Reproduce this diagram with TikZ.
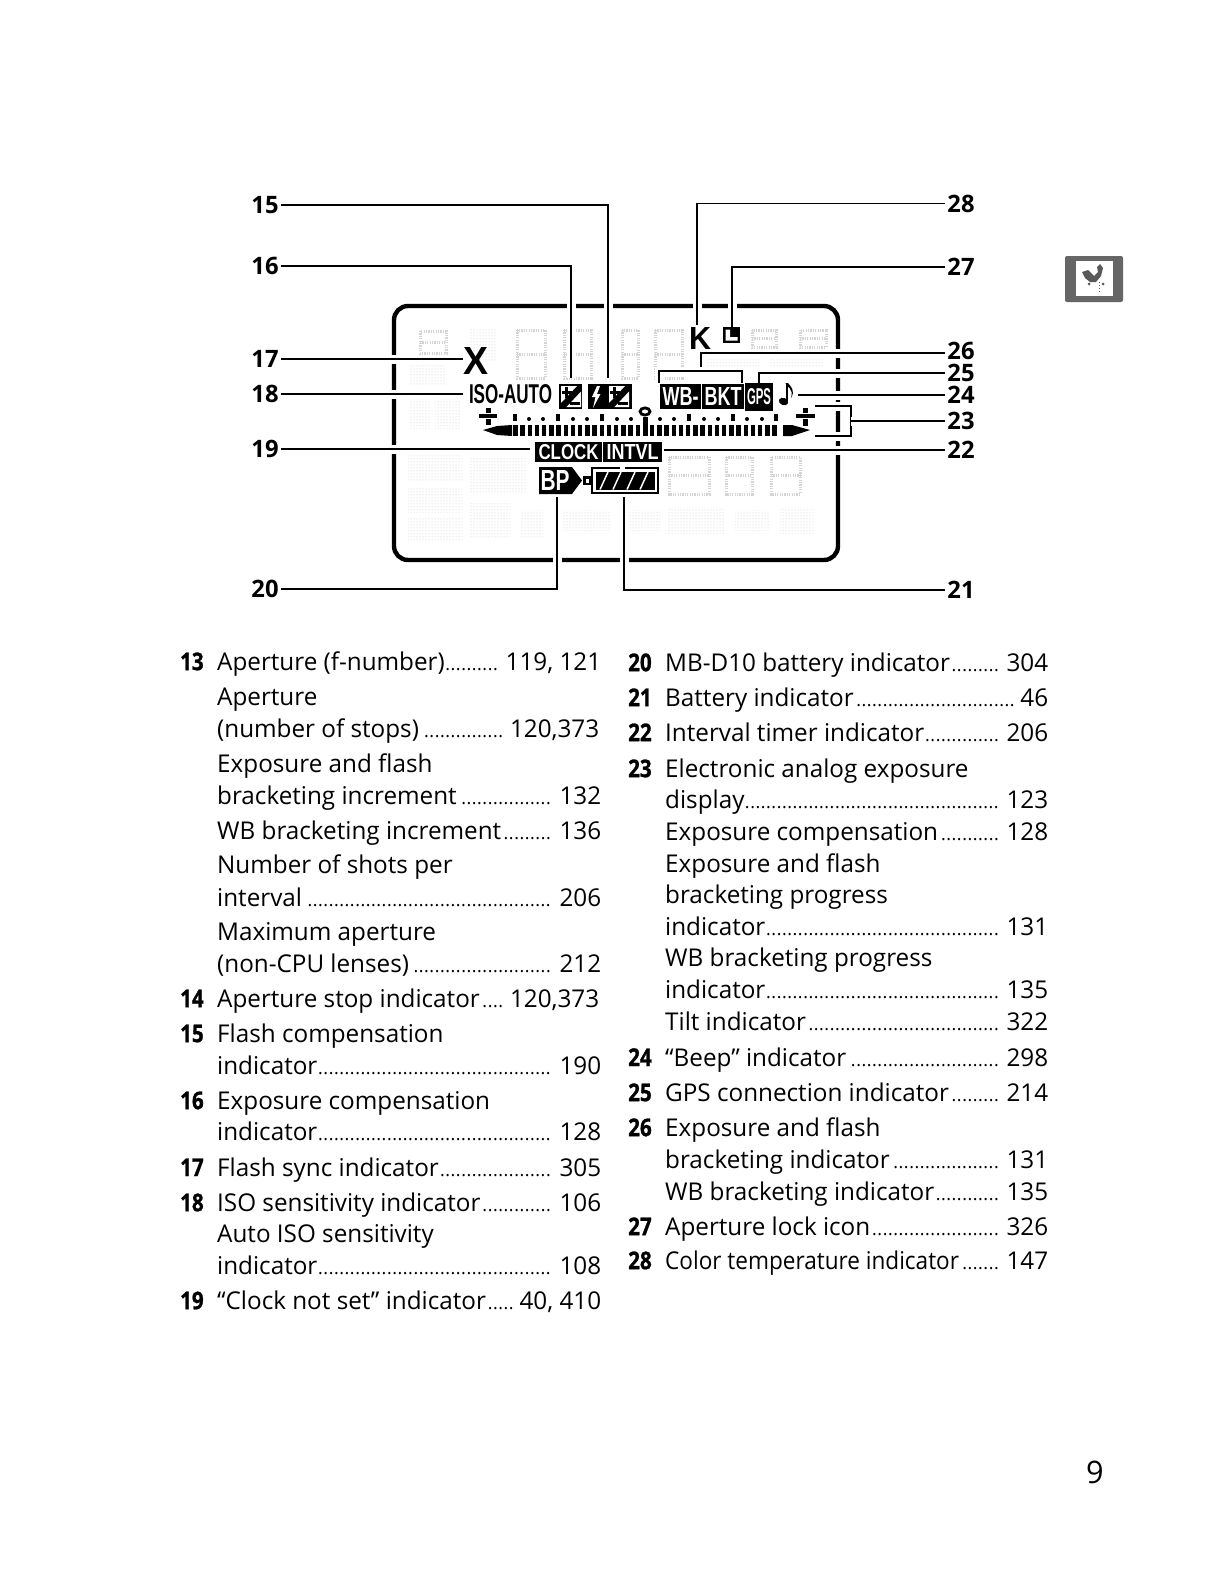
\documentclass[tikz,border=0pt]{standalone}
\usepackage{fontspec}
\usepackage{graphicx}
\usetikzlibrary{patterns}
\setmainfont[FakeStretch=0.99]{Open Sans}
\newfontfamily\lcd{Liberation Sans}
\newfontfamily\numf[FakeStretch=0.84,BoldFeatures={FakeBold=1}]{Open Sans}
\newcounter{ent}
\newcommand{\dotsf}{\leaders\hbox to 5.3pt{\hss\fontsize{18}{18}\selectfont.\hss}\hfill}
\tikzset{
 entry/.style={anchor=base west,inner sep=0pt,font=\fontsize{24.5}{28}\selectfont},
 numlab/.style={anchor=base west,inner sep=0pt,font=\numf\bfseries\fontsize{24.5}{28}\selectfont},
 calllab/.style={inner xsep=2pt,inner ysep=0pt,font=\bfseries\fontsize{24}{26}\selectfont},
 leader/.style={draw=black,line width=1.35pt,preaction={draw=white,line width=9pt}},
 ghost/.style={draw=black!17,line width=3pt,dash pattern=on 1.2pt off 1.2pt},
 patch/.style={pattern=dots,pattern color=black!22},
 lcdbox/.style={fill=black,text=white,inner sep=0pt},
 lcdtext/.style={text=black,inner sep=0pt}
}
\newcommand{\lent}[3]{\stepcounter{ent}\node (e\theent) [entry] at (217,#1-0.8) {\makebox[384pt][l]{#2\dotsf\,#3}};}
\newcommand{\rent}[3]{\stepcounter{ent}\node (e\theent) [entry] at (665,#1-0.8) {\makebox[383pt][l]{#2\dotsf\,#3}};}
\newcommand{\ltxt}[2]{\stepcounter{ent}\node (e\theent) [entry] at (217,#1-0.8) {#2};}
\newcommand{\rtxt}[2]{\stepcounter{ent}\node (e\theent) [entry] at (665,#1-0.8) {#2};}
\newcommand{\lnum}[2]{\stepcounter{ent}\node (e\theent) [numlab] at (180,#1-0.8) {#2};}
\newcommand{\rnum}[2]{\stepcounter{ent}\node (e\theent) [numlab] at (628,#1-0.8) {#2};}
\newcommand{\gdig}[4]{\draw[ghost] (#1,#2) rectangle ++(#3,#4); \draw[ghost] (#1,#2+#4/2) -- ++(#3,0);}
\newcommand{\pmglyph}[2]{\begin{scope}[shift={(#1,#2)}]
 \fill[white] (2,2) -- (18,2) -- (2,19) -- cycle;
 \fill[white] (22,7.5) -- (22,23) -- (7.5,23) -- cycle;
 \fill[black] (2.8,6.7) rectangle (12.8,9.7);
 \fill[black] (6.3,3) rectangle (9.3,13.5);
 \fill[black] (11,17.5) rectangle (20.5,20.5);
 \end{scope}}
\begin{document}
\begin{tikzpicture}[x=1pt,y=-1pt]
\useasboundingbox (0,0) rectangle (1224,1584);
\fill[white] (0,0) rectangle (1224,1584);
% ghost segments
\gdig{420}{331}{26}{22}\gdig{517}{330}{28}{48}\gdig{564}{330}{27}{48}\gdig{622}{330}{16}{48}\gdig{655}{330}{27}{48}
\gdig{752}{330}{24}{17}\gdig{800}{330}{26}{17}
\gdig{669}{457}{40}{37}\gdig{726}{457}{26}{37}\gdig{771}{457}{29}{37}
\fill[patch] (410,360) rectangle (445,385);
\fill[patch] (470,328) rectangle (497,360);
\fill[patch] (703,357) rectangle (760,367);
\fill[patch] (770,357) rectangle (823,367);
\fill[patch] (410,398) rectangle (430,428);
\fill[patch] (435,398) rectangle (460,428);
\fill[patch] (408,455) rectangle (462,480);
\fill[patch] (408,488) rectangle (462,512);
\fill[patch] (408,518) rectangle (462,540);
\fill[patch] (470,457) rectangle (527,493);
\fill[patch] (470,503) rectangle (510,537);
\fill[patch] (520,510) rectangle (543,537);
\fill[patch] (560,510) rectangle (610,530);
\fill[patch] (628,510) rectangle (660,530);
\fill[patch] (668,507) rectangle (725,533);
\fill[patch] (735,510) rectangle (770,530);
\fill[patch] (780,507) rectangle (813,533);
% LCD frame
\draw[line width=4.4pt,rounded corners=14pt] (394,306) rectangle (838,560);
% labels
\foreach \n/\t/\yy in {l15/15/205,l16/16/266,l17/17/359,l18/18/394,l19/19/449,l20/20/589}
  \node (\n) [calllab] at (265,\yy) {\t};
\foreach \n/\t/\yy in {r28/28/203.5,r27/27/267,r26/26/351,r25/25/373,r24/24/395,r23/23/421,r22/22/450,r21/21/590}
  \node (\n) [calllab] at (961,\yy) {\t};
% free ends
\coordinate (c15) at (608,378);
\coordinate (c16) at (571,378);
\coordinate (c17) at (463,359);
\coordinate (c18) at (463,394);
\coordinate (c19) at (530,449);
\coordinate (c20) at (557,497);
\coordinate (c21) at (624,497);
\coordinate (c22) at (664,450);
\coordinate (c23a) at (815,406);
\coordinate (c23b) at (815,436);
\coordinate (c23m) at (851,421);
\coordinate (c24) at (798,395);
\coordinate (c25) at (759,383);
\coordinate (c26m) at (701,371);
\coordinate (c26t) at (701,353);
\coordinate (c26a) at (659,383);
\coordinate (c26b) at (742,383);
\coordinate (c27) at (732,327);
\coordinate (c28) at (697,325);
% leaders
\path[leader] (l15.east) -| (c15);
\path[leader] (l16.east) -| (c16);
\path[leader] (l17.east) -- (c17 |- l17.east);
\path[leader] (l18.east) -- (c18 |- l18.east);
\path[leader] (l19.east) -- (c19 |- l19.east);
\path[leader] (l20.east) -| (c20);
\path[leader] (c21) |- (r21.west);
\path[leader] (c22 |- r22.west) -- (r22.west);
\path[leader] (c23a) -| (c23m) |- (c23b);
\path[leader] (c23m |- r23.west) -- (r23.west);
\path[leader] (c24 |- r24.west) -- (r24.west);
\path[leader] (c25) |- (r25.west);
\path[leader] (c26m) -- (c26t) -- (c26t -| r26.west);
\path[leader] (c26a) |- (c26m) -| (c26b);
\path[leader] (c27) |- (r27.west);
\path[leader] (c28) |- (r28.west);
% indicators
\node (kk) [lcdtext] at (700,338) {\resizebox{22pt}{22pt}{\lcd\bfseries K}};
\node (xx) [lcdtext] at (475.5,360.5) {\resizebox{25pt}{27pt}{\lcd\bfseries X}};
\node (iso) [lcdtext] at (510.5,394.5) {\resizebox{83pt}{19pt}{\lcd\bfseries ISO-AUTO}};
\fill (723,327) rectangle (740,343);
\fill[white] (725.5,329.5) -- (730,329.5) -- (730,337) -- (737.5,337) -- (737.5,340.5) -- (725.5,340.5) -- cycle;
\fill (559,384) rectangle (582,409);
\pmglyph{559}{384}
\fill (588,384) rectangle (632,409);
\fill[white] (597,386) -- (592,397) -- (595.5,397) -- (593,408) -- (600.5,394) -- (597,394) -- (600,386) -- cycle;
\pmglyph{607}{384}
\node (wb) [lcdbox,minimum width=41pt,minimum height=25pt] at (680.5,396.5) {\resizebox{36pt}{18pt}{\lcd\bfseries WB-}};
\node (bkt) [lcdbox,minimum width=42pt,minimum height=25pt] at (723,396.5) {\resizebox{37pt}{18pt}{\lcd\bfseries BKT}};
\node (gps) [lcdbox,minimum width=28pt,minimum height=28pt] at (759,397) {\resizebox{24pt}{16pt}{\lcd\bfseries GPS}};
% note
\fill[rotate around={-20:(783.5,401.5)}] (783.5,401.5) ellipse (4.8 and 3.6);
\fill (785.5,383) rectangle (788,401);
\fill (785.5,383) .. controls (787,388) and (794,388) .. (791,398) .. controls (796,390) and (790,386) .. (788,383) -- cycle;
% pluses
\fill (479,414) rectangle (497,418);
\fill (485.5,408) rectangle (490.5,413);
\fill (485.5,419) rectangle (490.5,425);
\fill (796,414) rectangle (815,418);
\fill (802.5,408) rectangle (807.5,413);
\fill (802.5,419) rectangle (807.5,426);
% scale
\fill (483,430) -- (497,426) -- (512,425) -- (512,436) -- (497,435) -- cycle;
\fill (783,425) -- (792,425) -- (810,430) -- (792,436) -- (783,436) -- cycle;
\foreach \i in {-18,...,18} \fill ({645+7.2*\i-2.2},425) rectangle ({645+7.2*\i+2.2},436);
\fill (643,417) rectangle (647.5,436);
\foreach \xx in {515,558,602,689,733,776} \fill (\xx-1.8,414) rectangle (\xx+1.8,421);
\foreach \xx in {529,543,573,587,617,631,660,674,704,718,747,762} \fill (\xx,419) circle (2);
\draw[line width=2.8pt] (645,411.5) ellipse (5 and 3.6);
% clock row
\node (clk) [lcdbox,minimum width=67pt,minimum height=20pt] at (568.5,452) {\resizebox{60pt}{15pt}{\lcd\bfseries CLOCK}};
\node (int) [lcdbox,minimum width=59pt,minimum height=20pt] at (632.5,452) {\resizebox{52pt}{15pt}{\lcd\bfseries INTVL}};
% BP
\fill (539,467) -- (572,467) -- (582,480.5) -- (572,494) -- (539,494) -- cycle;
\node (bp) [text=white,inner sep=0pt] at (555,480.5) {\resizebox{29pt}{20pt}{\lcd\bfseries BP}};
% battery
\fill (583,476) rectangle (591,485);
\fill[white] (585.5,478.5) rectangle (589,482.5);
\draw[line width=2.4pt] (592,468) rectangle (658,493);
\fill (596,472) rectangle (654.5,489.5);
\foreach \xx in {604,617,631,644} \draw[white,line width=1.5pt] (\xx-4,489.5) -- (\xx+4,472);
\fill[white] (620,466) rectangle (625,469.5);
% tab
\fill[black!60,rounded corners=2pt] (1065,256) rectangle (1123,302);
\fill[white] (1076,261) rectangle (1113,296);
\begin{scope}[black!65]
\fill (1082,272) -- (1088,270) -- (1094,276) -- (1098,272) -- (1097,267) -- (1100,264) -- (1103,268) -- (1101,276) -- (1096,282) -- (1090,282) -- (1085,278) -- cycle;
\draw[line width=1pt,dotted] (1099,282) -- (1099,293);
\fill (1089,284) circle (1.5);
\fill (1103,284) circle (1.5);
\end{scope}
% page number
\node (pg) [inner sep=0pt,font=\fontsize{31}{34}\selectfont] at (1095,1472) {9};
% left column
\lnum{671}{13}\lent{671}{Aperture (f-number)}{119, 121}
\ltxt{706}{Aperture}
\lent{738}{(number of stops)}{120,373\kern2pt}
\ltxt{773.5}{Exposure and flash}
\lent{805}{bracketing increment}{132}
\lent{840}{WB bracketing increment}{136}
\ltxt{874.5}{Number of shots per}
\lent{907}{interval}{206}
\ltxt{941}{Maximum aperture}
\lent{972.8}{(non-CPU lenses)}{212}
\lnum{1008}{14}\lent{1008}{Aperture stop indicator}{120,373\kern2pt}
\lnum{1043}{15}\ltxt{1043}{Flash compensation}
\lent{1075}{indicator}{190}
\lnum{1110}{16}\ltxt{1110}{Exposure compensation}
\lent{1141}{indicator}{128}
\lnum{1176.8}{17}\lent{1176.8}{Flash sync indicator}{305}
\lnum{1212}{18}\lent{1212}{ISO sensitivity indicator}{106}
\ltxt{1243}{Auto ISO sensitivity}
\lent{1274.8}{indicator}{108}
\lnum{1310}{19}\lent{1310}{“Clock not set” indicator}{40, 410}
% right column
\rnum{672}{20}\rent{672}{MB-D10 battery indicator}{304}
\rnum{707}{21}\rent{707}{Battery indicator}{46}
\rnum{742}{22}\rent{742}{Interval timer indicator}{206}
\rnum{778}{23}\rtxt{778}{Electronic analog exposure}
\rent{809}{display}{123}
\rent{841}{Exposure compensation}{128}
\rtxt{873}{Exposure and flash}
\rtxt{904}{bracketing progress}
\rent{936}{indicator}{131}
\rtxt{967.5}{WB bracketing progress}
\rent{999.5}{indicator}{135}
\rent{1031}{Tilt indicator}{322}
\rnum{1066.8}{24}\rent{1066.8}{“Beep” indicator}{298}
\rnum{1102}{25}\rent{1102}{GPS connection indicator}{214}
\rnum{1137}{26}\rtxt{1137}{Exposure and flash}
\rent{1168.8}{bracketing indicator}{131}
\rent{1201.5}{WB bracketing indicator}{135}
\rnum{1236}{27}\rent{1236}{Aperture lock icon}{326}
\rnum{1270}{28}\rent{1270}{\scalebox{0.93}[1]{Color temperature indicator}}{147}
\end{tikzpicture}
\end{document}
